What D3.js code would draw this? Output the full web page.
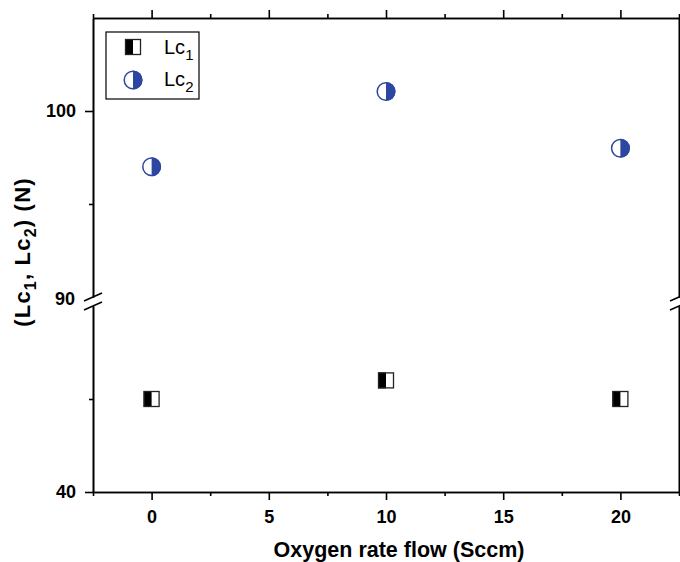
<!DOCTYPE html>
<html>
<head>
<meta charset="utf-8">
<script src="https://cdn.jsdelivr.net/npm/d3@7"></script>
<style>
  body { margin: 0; background: #fff; }
  svg { display: block; font-family: "Liberation Sans", Arial, sans-serif; }
  .axis path, .axis line { stroke: #000; stroke-width: 1.6px; }
  .axis text { font-size: 18px; font-weight: bold; fill: #000; font-family: "Liberation Sans", Arial, sans-serif; }
</style>
</head>
<body>
<div id="chart"></div>
<script>
// data
const flow = [0, 10, 20];
const lc1 = [50, 52, 50];
const lc2 = [97.0, 101.05, 98];

const xTicks = [0, 5, 10, 15, 20];
const xMinor = [-2.5, 2.5, 7.5, 12.5, 17.5, 22.5];
const upperTicks = [100];
const upperMinor = [95];
const lowerTicks = [40];
const lowerMinor = [50];
const breakLabel = "90";

const W = 680, H = 562;
const plotL = 93, plotR = 679, plotT = 18, plotB = 492;

const svg = d3.select("#chart").append("svg").attr("width", W).attr("height", H);

/* scales */
const x = d3.scaleLinear().domain([-2.5, 22.5]).range([plotL, plotR]);
const yUp = d3.scaleLinear().domain([90, 105]).range([297, plotT]);
const yLo = d3.scaleLinear().domain([40, 60]).range([plotB, 306]);

/* x axes (bottom + top) */
svg.append("g").attr("class", "axis")
  .attr("transform", `translate(0,${plotB})`)
  .call(d3.axisBottom(x).tickValues(xTicks).tickSize(8).tickSizeOuter(0).tickPadding(10));
svg.append("g").attr("class", "axis")
  .attr("transform", `translate(0,${plotB})`)
  .call(d3.axisBottom(x).tickValues(xMinor).tickSize(4).tickSizeOuter(0).tickFormat(""));
svg.append("g").attr("class", "axis")
  .attr("transform", `translate(0,${plotT})`)
  .call(d3.axisTop(x).tickValues(xTicks).tickSize(8).tickSizeOuter(0).tickFormat(""));
svg.append("g").attr("class", "axis")
  .attr("transform", `translate(0,${plotT})`)
  .call(d3.axisTop(x).tickValues(xMinor).tickSize(4).tickSizeOuter(0).tickFormat(""));

/* y axes, two segments */
const yAxis = (scale, major, minor, xpos, dir) => {
  const make = dir === "left" ? d3.axisLeft : d3.axisRight;
  svg.append("g").attr("class", "axis")
    .attr("transform", `translate(${xpos},0)`)
    .call(make(scale).tickValues(major).tickSize(8).tickSizeOuter(0).tickPadding(9)
      .tickFormat(dir === "left" ? d3.format("d") : ""));
  svg.append("g").attr("class", "axis")
    .attr("transform", `translate(${xpos},0)`)
    .call(make(scale).tickValues(minor).tickSize(4).tickSizeOuter(0).tickFormat(""));
};
yAxis(yUp, upperTicks, upperMinor, plotL, "left");
yAxis(yLo, lowerTicks, lowerMinor, plotL, "left");
yAxis(yUp, [], [], plotR, "right");
yAxis(yLo, [], [], plotR, "right");

// break label + break marks
const midBreak = (yUp(90) + yLo(60)) / 2;
svg.append("text")
  .attr("x", plotL - 18).attr("y", midBreak - 2).attr("dy", "0.32em")
  .attr("text-anchor", "end")
  .style("font-size", "18px").style("font-weight", "bold")
  .text(breakLabel);

[plotL, plotR].forEach((bx) => {
  [yUp(90), yLo(60)].forEach((by) => {
    svg.append("line")
      .attr("x1", bx - 9).attr("y1", by + 4)
      .attr("x2", bx + 9).attr("y2", by - 4)
      .attr("stroke", "#000").attr("stroke-width", 1.6);
  });
});

/* markers */
const sq = 16, rad = 9.5;
const blue = "#2c46a2";

const drawSquare = (g, cx, cy) => {
  g.append("rect").attr("x", cx - sq / 2).attr("y", cy - sq / 2)
    .attr("width", sq / 2).attr("height", sq).attr("fill", "#000");
  g.append("rect").attr("x", cx - sq / 2 + 0.5).attr("y", cy - sq / 2 + 0.5)
    .attr("width", sq - 1).attr("height", sq - 1)
    .attr("fill", "none").attr("stroke", "#222").attr("stroke-width", 1.3);
};
const drawCircle = (g, cx, cy) => {
  g.append("circle").attr("cx", cx).attr("cy", cy).attr("r", rad - 0.7).attr("fill", "#fff");
  g.append("path")
    .attr("d", `M${cx},${cy - rad} A${rad},${rad} 0 0 1 ${cx},${cy + rad} Z`)
    .attr("fill", blue);
  g.append("circle").attr("cx", cx).attr("cy", cy).attr("r", rad - 0.7)
    .attr("fill", "none").attr("stroke", blue).attr("stroke-width", 1.5);
};

const marks = svg.append("g");
flow.forEach((f, i) => {
  drawSquare(marks, x(f), yLo(lc1[i]));
  drawCircle(marks, x(f), yUp(lc2[i]));
});

/* legend */
const legend = svg.append("g");
legend.append("rect").attr("x", 106).attr("y", 32).attr("width", 93).attr("height", 67)
  .attr("fill", "#fff").attr("stroke", "#000").attr("stroke-width", 1.2);
drawSquare(legend, 133, 47);
drawCircle(legend, 133, 80);
const legText = (y, sub) => {
  const t = legend.append("text").attr("x", 164).attr("y", y)
    .style("font-size", "20px").attr("fill", "#000");
  t.append("tspan").text("Lc");
  t.append("tspan").attr("dy", 6).style("font-size", "15px").text(sub);
};
legText(54, "1");
legText(86, "2");

/* axis titles */
svg.append("text")
  .attr("x", (plotL + plotR) / 2 + 13).attr("y", 557)
  .attr("text-anchor", "middle")
  .style("font-size", "21.5px").style("font-weight", "bold")
  .text("Oxygen rate flow (Sccm)");

const yt = svg.append("text")
  .attr("transform", `translate(30,252) rotate(-90)`)
  .attr("text-anchor", "middle")
  .style("font-size", "22px").style("font-weight", "bold")
  .style("letter-spacing", "1.2px");
yt.append("tspan").text("(Lc");
yt.append("tspan").attr("dy", 6).style("font-size", "16px").text("1");
yt.append("tspan").attr("dy", -6).text(", Lc");
yt.append("tspan").attr("dy", 6).style("font-size", "16px").text("2");
yt.append("tspan").attr("dy", -6).text(") (N)");
</script>
</body>
</html>
